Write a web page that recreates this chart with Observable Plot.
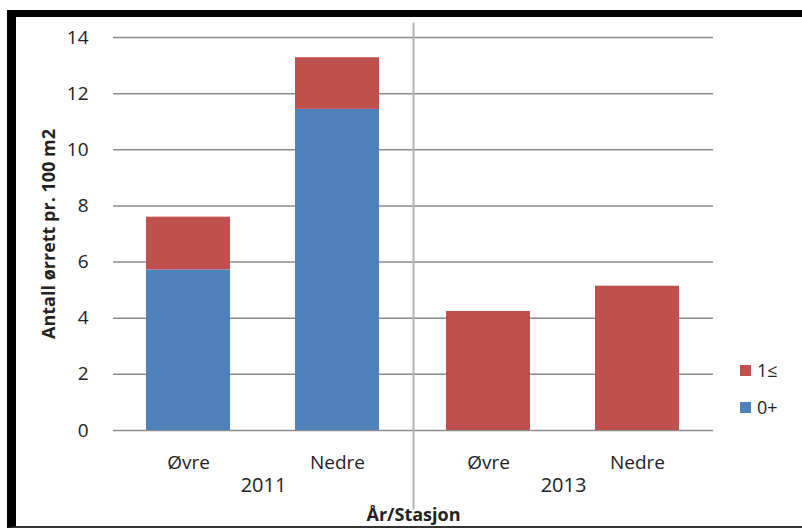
<!DOCTYPE html>
<html><head><meta charset="utf-8">
<script src="https://cdn.jsdelivr.net/npm/d3@7"></script>
<script src="https://cdn.jsdelivr.net/npm/@observablehq/plot@0.6"></script>
<style>
body{margin:0;background:#fff;}
#wrap{position:relative;width:802px;height:529px;overflow:hidden;background:#fff;}
#border{position:absolute;left:7px;top:10px;width:795px;height:518px;box-sizing:border-box;border-top:7px solid #000;border-left:9px solid #000;border-bottom:2px solid #333;pointer-events:none;}
#legend{position:absolute;left:740px;top:359px;font-family:"Open Sans";font-size:18px;color:#222;}
#legend .row{display:flex;align-items:center;height:22px;margin-bottom:15px;}
#legend .sw{width:11px;height:11px;margin-right:6px;}
</style></head><body>
<div id="wrap"><div id="chart"></div><div id="border"></div><div id="legend"></div></div>
<script>
const years = ["2011", "2011", "2013", "2013"];
const stations = ["Øvre", "Nedre", "Øvre", "Nedre"];
const age0 = [5.72, 11.44, 0, 0];      // 0+
const age1 = [1.88, 1.84, 4.24, 5.14]; // 1≤
const seriesNames = ["0+", "1≤"];
const seriesColors = ["#4F81BD", "#C0504D"];
const yTicks = [0, 2, 4, 6, 8, 10, 12, 14];
const yearDomain = ["2011", "2013"];
const stationDomain = ["Øvre", "Nedre"];
const xTitle = "År/Stasjon";
const yTitle = "Antall ørrett pr. 100 m2";

const rows = [];
years.forEach((yr, i) => {
  rows.push({year: yr, station: stations[i], series: seriesNames[0], value: age0[i]});
  rows.push({year: yr, station: stations[i], series: seriesNames[1], value: age1[i]});
});

const plot = Plot.plot({
  width: 802,
  height: 529,
  marginLeft: 113,
  marginRight: 89,
  marginTop: 37,
  marginBottom: 99,
  style: {fontFamily: "Open Sans", fontSize: "18px", color: "#222", background: "transparent"},
  fx: {domain: yearDomain, padding: 0, axis: "bottom", tickSize: 0, tickPadding: 47, label: xTitle, labelAnchor: "center", labelOffset: 90},
  x: {domain: stationDomain, paddingInner: 0.4333, paddingOuter: 0.2167, tickSize: 0, tickPadding: 25, label: null},
  y: {domain: [0, 14], ticks: yTicks, tickSize: 0, tickPadding: 25, label: yTitle, labelArrow: "none", labelAnchor: "center", labelOffset: 71},
  color: {domain: seriesNames, range: seriesColors},
  marks: [
    Plot.ruleY(yTicks, {stroke: "#8c8c8c", strokeWidth: 1.5}),
    Plot.barY(rows, {fx: "year", x: "station", y: "value", fill: "series"}),
    Plot.frame({fx: yearDomain[1], anchor: "left", stroke: "#b4b4b4", strokeWidth: 2, insetTop: -14, insetBottom: -78})
  ]
});
document.getElementById("chart").appendChild(plot);
const svg = d3.select(plot);
const labels = svg.selectAll('[aria-label$="axis label"]');
labels.attr("font-weight", "bold").attr("font-size", "18px");
labels.selectAll("text").each(function() {
  this.textContent = this.textContent.replace(/\s*[↑→↓←]\s*/g, "");
});
svg.selectAll('[aria-label="fx-axis tick label"]').attr("font-size", "20px");
svg.selectAll('[aria-label="x-axis tick label"]').attr("font-size", "19px");
svg.selectAll('[aria-label="y-axis tick label"]').attr("font-size", "19px");

const legend = document.getElementById("legend");
[1, 0].forEach(k => {
  const row = document.createElement("div");
  row.className = "row";
  const sw = document.createElement("div");
  sw.className = "sw";
  sw.style.background = seriesColors[k];
  const t = document.createElement("span");
  t.textContent = seriesNames[k];
  row.appendChild(sw); row.appendChild(t);
  legend.appendChild(row);
});
</script>
</body></html>
